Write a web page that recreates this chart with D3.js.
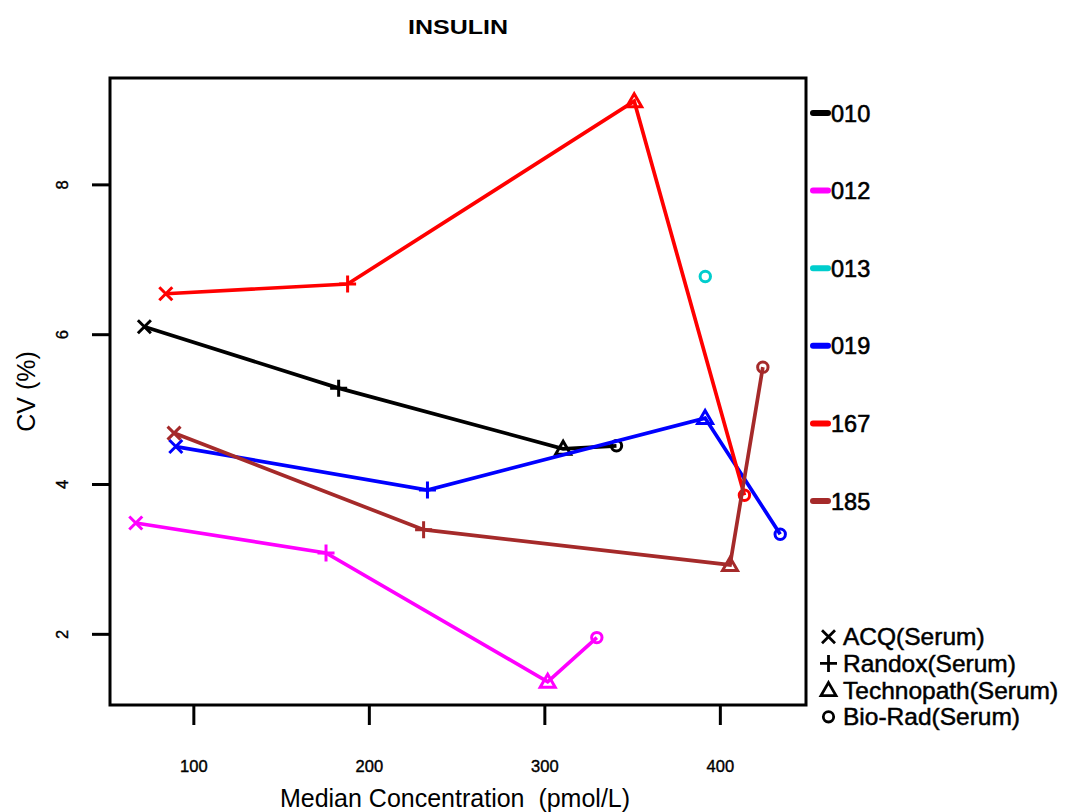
<!DOCTYPE html>
<html>
<head>
<meta charset="utf-8">
<script src="https://cdn.jsdelivr.net/npm/d3@7/dist/d3.min.js"></script>
<style>
  html, body { margin: 0; padding: 0; background: #fff; }
  svg text { font-family: "Liberation Sans", Arial, sans-serif; fill: #000; white-space: pre; }
</style>
</head>
<body>
<svg id="chart" width="1069" height="812"></svg>
<script>
// Laboratory codes (one line per lab) and their colours
const labs = ["010", "012", "013", "019", "167", "185"];
const labColors = ["#000000", "#FF00FF", "#00CDCD", "#0000FF", "#FF0000", "#A52A2A"];

// Control materials, in the order each lab's line visits them
const materials = ["ACQ(Serum)", "Randox(Serum)", "Technopath(Serum)", "Bio-Rad(Serum)"];
const materialSymbols = ["times", "plus", "triangle", "circle"];

// Median concentration (pmol/L) per lab, by material
const conc010 = [72.1, 182.8, 310.7, 341.1];
const conc012 = [67.2, 175.6, 301.9, 329.9];
const conc013 = [null, null, null, 391.7];
const conc019 = [90.0, 233.4, 391.6, 434.4];
const conc167 = [84.3, 187.9, 351.2, 414.0];
const conc185 = [89.0, 231.2, 405.8, 424.5];

// CV (%) per lab, by material
const cv010 = [6.10, 5.28, 4.47, 4.51];
const cv012 = [3.48, 3.08, 1.36, 1.95];
const cv013 = [null, null, null, 6.77];
const cv019 = [4.50, 3.92, 4.88, 3.33];
const cv167 = [6.54, 6.67, 9.11, 3.85];
const cv185 = [4.68, 3.39, 2.92, 5.56];

const xTicks = [100, 200, 300, 400];
const yTicks = [2, 4, 6, 8];

const concByLab = [conc010, conc012, conc013, conc019, conc167, conc185];
const cvByLab = [cv010, cv012, cv013, cv019, cv167, cv185];

const series = labs.map((lab, i) => ({
  lab,
  color: labColors[i],
  points: materials.map((m, j) => ({ m: j, x: concByLab[i][j], y: cvByLab[i][j] }))
    .filter(p => p.x != null && p.y != null)
}));

const svg = d3.select("#chart");
const box = { left: 110, right: 806, top: 78, bottom: 705 };

// Axis ranges padded by 4% on each side
function padded(vals) {
  const [a, b] = d3.extent(vals);
  const pad = (b - a) * 0.04;
  return [a - pad, b + pad];
}
const allX = series.flatMap(s => s.points.map(p => p.x));
const allY = series.flatMap(s => s.points.map(p => p.y));
const x = d3.scaleLinear().domain(padded(allX)).range([box.left, box.right]);
const y = d3.scaleLinear().domain(padded(allY)).range([box.bottom, box.top]);

// Marker shapes
function symbolPath(kind) {
  switch (kind) {
    case "times": { const r = 6.5; return `M${-r},${-r}L${r},${r}M${-r},${r}L${r},${-r}`; }
    case "plus": { const r = 8.5; return `M${-r},0L${r},0M0,${-r}L0,${r}`; }
    case "triangle": { const w = 7.5; return `M0,-7.5L${w},5.5L${-w},5.5Z`; }
    case "circle": { const r = 5.2; return `M${r},0A${r},${r} 0 1,1 ${-r},0A${r},${r} 0 1,1 ${r},0Z`; }
  }
}

// Title
svg.append("text")
  .attr("x", 458).attr("y", 34)
  .attr("text-anchor", "middle")
  .attr("font-size", 20).attr("font-weight", "bold")
  .attr("textLength", 100).attr("lengthAdjust", "spacingAndGlyphs")
  .text("INSULIN");

// Axes
const xAxis = svg.append("g")
  .attr("transform", `translate(0,${box.bottom})`)
  .call(d3.axisBottom(x).tickValues(xTicks).tickSize(20).tickPadding(0).tickFormat(d3.format("d")));
xAxis.select(".domain").remove();
xAxis.selectAll(".tick line").attr("stroke", "#000").attr("stroke-width", 3);
xAxis.selectAll(".tick text")
  .attr("y", 67).attr("dy", null)
  .attr("font-size", 16.5).attr("font-family", "Liberation Sans, Arial, sans-serif")
  .attr("stroke", "#000").attr("stroke-width", 0.4);

const yAxis = svg.append("g")
  .attr("transform", `translate(${box.left},0)`)
  .call(d3.axisLeft(y).tickValues(yTicks).tickSize(18).tickFormat(d3.format("d")));
yAxis.select(".domain").remove();
yAxis.selectAll(".tick line").attr("stroke", "#000").attr("stroke-width", 3);
yAxis.selectAll(".tick text")
  .attr("x", null).attr("dy", null)
  .attr("transform", "translate(-42,0) rotate(-90)")
  .attr("text-anchor", "middle")
  .attr("font-size", 16.5).attr("font-family", "Liberation Sans, Arial, sans-serif")
  .attr("stroke", "#000").attr("stroke-width", 0.4);

// Plot frame
svg.append("rect")
  .attr("x", box.left).attr("y", box.top)
  .attr("width", box.right - box.left).attr("height", box.bottom - box.top)
  .attr("fill", "none").attr("stroke", "#000").attr("stroke-width", 3);

// Axis titles
svg.append("text")
  .attr("x", 455).attr("y", 807)
  .attr("text-anchor", "middle")
  .attr("font-size", 25)
  .text("Median Concentration  (pmol/L)");

svg.append("text")
  .attr("transform", `translate(35,${(box.top + box.bottom) / 2}) rotate(-90)`)
  .attr("text-anchor", "middle")
  .attr("font-size", 25)
  .text("CV (%)");

// Lines and markers per lab
const line = d3.line().x(p => x(p.x)).y(p => y(p.y));
const g = svg.append("g");
series.forEach(s => {
  if (s.points.length > 1) {
    g.append("path")
      .attr("d", line(s.points))
      .attr("fill", "none")
      .attr("stroke", s.color)
      .attr("stroke-width", 3.7);
  }
  g.selectAll(null)
    .data(s.points)
    .enter().append("path")
    .attr("transform", p => `translate(${x(p.x)},${y(p.y)})`)
    .attr("d", p => symbolPath(materialSymbols[p.m]))
    .attr("fill", "none")
    .attr("stroke", s.color)
    .attr("stroke-width", 3);
});

// Lab legend (right margin)
const labLegend = svg.append("g");
labs.forEach((lab, i) => {
  const cy = 113 + i * 77.6;
  labLegend.append("line")
    .attr("x1", 813).attr("x2", 828).attr("y1", cy).attr("y2", cy)
    .attr("stroke", labColors[i]).attr("stroke-width", 6)
    .attr("stroke-linecap", "round");
  labLegend.append("text")
    .attr("x", 831).attr("y", cy + 8.5)
    .attr("font-size", 23.5)
    .attr("stroke", "#000").attr("stroke-width", 0.6)
    .text(lab);
});

// Material legend (bottom right)
const matLegend = svg.append("g");
materials.forEach((m, i) => {
  const cy = 636.7 + i * 26.7;
  matLegend.append("path")
    .attr("transform", `translate(828.5,${cy})`)
    .attr("d", symbolPath(materialSymbols[i]))
    .attr("fill", "none").attr("stroke", "#000").attr("stroke-width", 2.8);
  matLegend.append("text")
    .attr("x", 843).attr("y", cy + 8.5)
    .attr("font-size", 24.5)
    .attr("stroke", "#000").attr("stroke-width", 0.5)
    .text(m);
});
</script>
</body>
</html>
